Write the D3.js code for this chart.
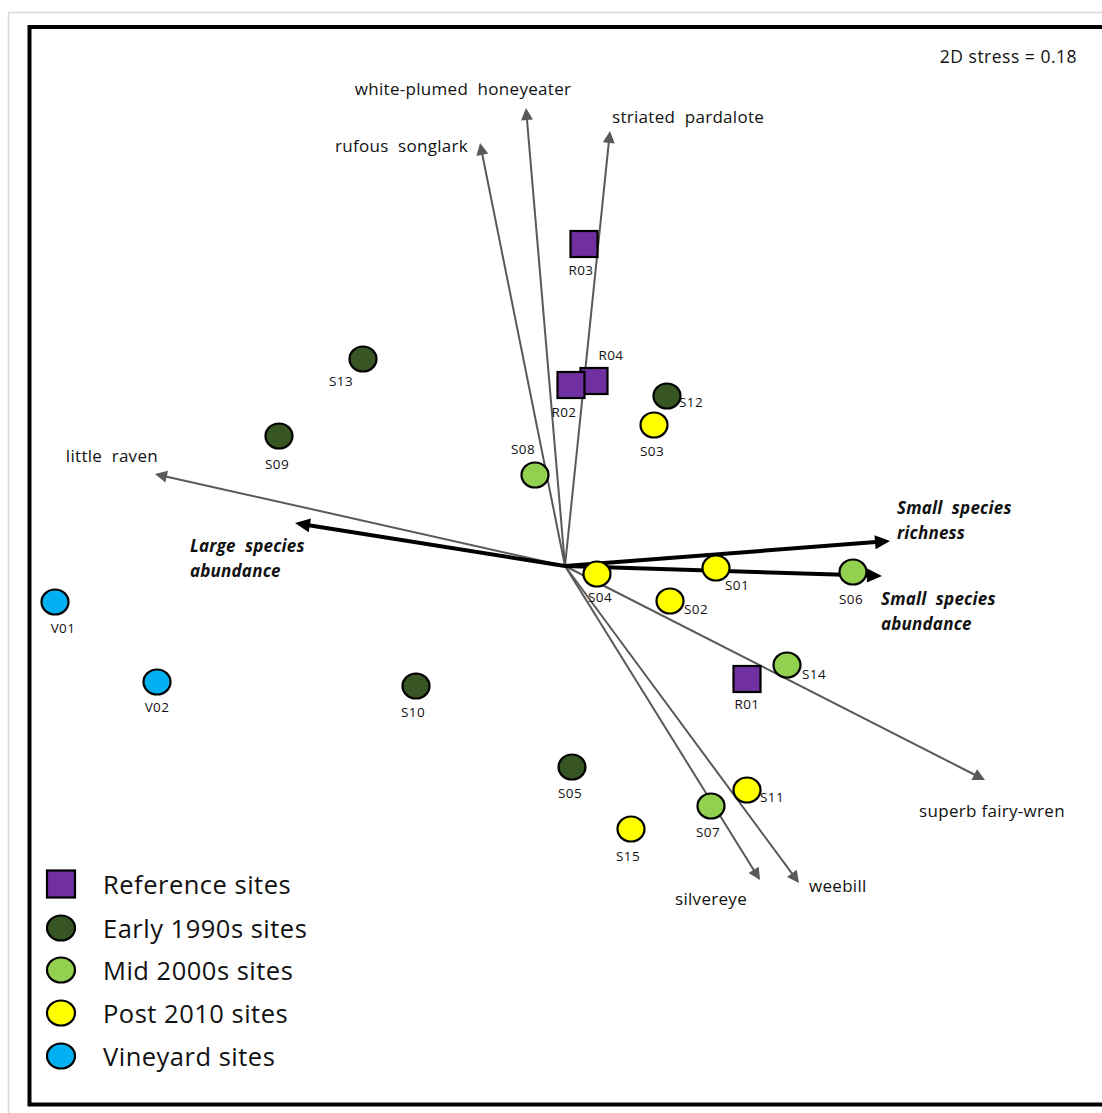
<!DOCTYPE html>
<html>
<head>
<meta charset="utf-8">
<script src="https://cdn.jsdelivr.net/npm/d3@7"></script>
<style>
  html, body { margin: 0; padding: 0; background: #fff; overflow: hidden; }
  text { font-family: "Open Sans", Lato, sans-serif; fill: #111; }
</style>
</head>
<body>
<svg id="chart" width="1102" height="1113"></svg>
<script>
// NMDS site scores
const siteIds    = ["R01","R02","R03","R04","S01","S02","S03","S04","S05","S06","S07","S08","S09","S10","S11","S12","S13","S14","S15","V01","V02"];
const siteGroups = [0,0,0,0,3,3,3,3,1,2,2,2,1,1,3,1,1,2,3,4,4];
const siteNMDS1  = [0.91,0.03,0.095,0.145,0.755,0.525,0.445,0.16,0.035,1.44,0.73,-0.15,-1.43,-0.745,0.91,0.51,-1.01,1.11,0.33,-2.55,-2.04];
const siteNMDS2  = [-0.565,0.905,1.61,0.925,-0.01,-0.175,0.705,-0.04,-1.005,-0.03,-1.2,0.455,0.65,-0.6,-1.12,0.85,1.035,-0.495,-1.315,-0.18,-0.58];

// Site groups
const groupNames  = ["Reference sites","Early 1990s sites","Mid 2000s sites","Post 2010 sites","Vineyard sites"];
const groupColors = ["#7030A0","#375623","#92D050","#FFFF00","#00B0F0"];
const groupShapes = ["square","circle","circle","circle","circle"];

// Species vectors
const speciesNames = ["white-plumed  honeyeater","striated  pardalote","rufous  songlark","little  raven","superb fairy-wren","silvereye","weebill"];
const speciesNMDS1 = [-0.195,0.225,-0.425,-2.05,2.1,0.975,1.17];
const speciesNMDS2 = [2.29,2.175,2.115,0.46,-1.07,-1.57,-1.585];

// Trait vectors
const traitNames = [["Small  species","richness"],["Small  species","abundance"],["Large  species","abundance"]];
const traitNMDS1 = [1.625,1.585,-1.35];
const traitNMDS2 = [0.125,-0.05,0.215];

const stressText = "2D stress = 0.18";

// ---- layout ----
const svg = d3.select("#chart");
const x = d3.scaleLinear().domain([-2.7, 2.7]).range([25, 1105]);
const y = d3.scaleLinear().domain([-2.7, 2.7]).range([1106, 26]);
const ox = x(0), oy = y(0);

// label offsets (px) relative to each site marker: [dx, dy]
const siteLabelOffset = {
  R01:[0,25], R02:[-7,27], R03:[-3,26], R04:[17,-26],
  S01:[21,17], S02:[26,8], S03:[-2,26], S04:[3,23], S05:[-2,26],
  S06:[-2,27], S07:[-3,26], S08:[-12,-26], S09:[-2,28], S10:[-3,26],
  S11:[25,7], S12:[24,6], S13:[-22,22], S14:[27,9], S15:[-3,27],
  V01:[8,26], V02:[0,25]
};
// species label placement: [anchor, dx, dy]
const speciesLabelPos = [
  ["middle",-63,-20], ["start",2,-15], ["end",-12,2], ["end",3,-19],
  ["middle",7,30], ["middle",-49,18], ["start",10,2]
];
// trait label placement: [dx, dy] of first line start
const traitLabelPos = [[7,-34],[-1,22],[-105,22]];

// outer page edge lines
svg.append("line").attr("x1",8.5).attr("y1",12).attr("x2",8.5).attr("y2",1113)
  .attr("stroke","#d9d9d9").attr("stroke-width",1.5);
svg.append("line").attr("x1",8).attr("y1",12.5).attr("x2",1102).attr("y2",12.5)
  .attr("stroke","#d9d9d9").attr("stroke-width",1.5);

// chart frame
svg.append("rect").attr("x",29.5).attr("y",27).attr("width",1110).attr("height",1077.5)
  .attr("fill","none").attr("stroke","#000").attr("stroke-width",4);

// arrow helper: shaft from origin to base of head, then triangular head
function arrow(g, x2, y2, color, width, headLen, headHalf) {
  const dx = x2 - ox, dy = y2 - oy, len = Math.hypot(dx, dy);
  const ux = dx / len, uy = dy / len;
  const bx = x2 - ux * headLen, by = y2 - uy * headLen;
  g.append("line").attr("x1",ox).attr("y1",oy).attr("x2",bx + ux*1).attr("y2",by + uy*1)
    .attr("stroke",color).attr("stroke-width",width);
  g.append("path")
    .attr("d", `M${x2},${y2}L${bx - uy*headHalf},${by + ux*headHalf}L${bx + uy*headHalf},${by - ux*headHalf}Z`)
    .attr("fill",color);
}

const vec = svg.append("g");
speciesNames.forEach((n, i) => {
  const tx = x(speciesNMDS1[i]), ty = y(speciesNMDS2[i]);
  arrow(vec, tx, ty, "#595959", 2, 12, 6);
  const p = speciesLabelPos[i];
  vec.append("text").attr("x", tx + p[1]).attr("y", ty + p[2])
    .attr("text-anchor", p[0]).attr("dominant-baseline","central")
    .attr("font-size", 17).attr("letter-spacing", 0.3)
    .style("white-space","pre").text(n);
});
traitNames.forEach((lines, i) => {
  const tx = x(traitNMDS1[i]), ty = y(traitNMDS2[i]);
  arrow(vec, tx, ty, "#000", 4, 15, 7);
  const p = traitLabelPos[i];
  lines.forEach((ln, k) => {
    vec.append("text").attr("x", tx + p[0]).attr("y", ty + p[1] + k*25)
      .attr("dominant-baseline","central")
      .attr("font-size", 17).attr("font-weight","bold").attr("font-style","italic")
      .attr("letter-spacing", 0.2)
      .style("white-space","pre").text(ln);
  });
});

// site markers
function marker(g, cx, cy, group, rx, ry, sq) {
  if (groupShapes[group] === "square") {
    g.append("rect").attr("x", cx - sq/2).attr("y", cy - sq/2 + 0.5)
      .attr("width", sq).attr("height", sq - 1)
      .attr("fill", groupColors[group]).attr("stroke","#000").attr("stroke-width",2.2);
  } else {
    g.append("ellipse").attr("cx", cx).attr("cy", cy).attr("rx", rx).attr("ry", ry)
      .attr("fill", groupColors[group]).attr("stroke","#000").attr("stroke-width",2.2);
  }
}

const sites = siteIds.map((id, i) => ({id, g: siteGroups[i], px: x(siteNMDS1[i]), py: y(siteNMDS2[i])}));
// R04 sits beneath R02
const drawOrder = sites.slice().sort((a, b) => (a.id === "R04" ? -1 : b.id === "R04" ? 1 : 0));
const pts = svg.append("g");
drawOrder.forEach(s => {
  marker(pts, s.px, s.py, s.g, 13.5, 12.5, 27);
  const o = siteLabelOffset[s.id];
  pts.append("text").attr("x", s.px + o[0]).attr("y", s.py + o[1])
    .attr("text-anchor","middle").attr("dominant-baseline","central")
    .attr("font-size", 13.5).attr("letter-spacing", 0.4).text(s.id);
});

// stress annotation
svg.append("text").attr("x", 1077).attr("y", 56).attr("text-anchor","end")
  .attr("dominant-baseline","central").attr("font-size", 17.5)
  .attr("letter-spacing", 0.5).text(stressText);

// legend
const leg = svg.append("g");
const legY = [884, 928, 970, 1013, 1056];
groupNames.forEach((n, i) => {
  marker(leg, 61, legY[i], i, 14, 12.5, 28);
  leg.append("text").attr("x", 103).attr("y", legY[i]).attr("dominant-baseline","central")
    .attr("font-size", 25.5).attr("letter-spacing", 0.5).text(n);
});
</script>
</body>
</html>
